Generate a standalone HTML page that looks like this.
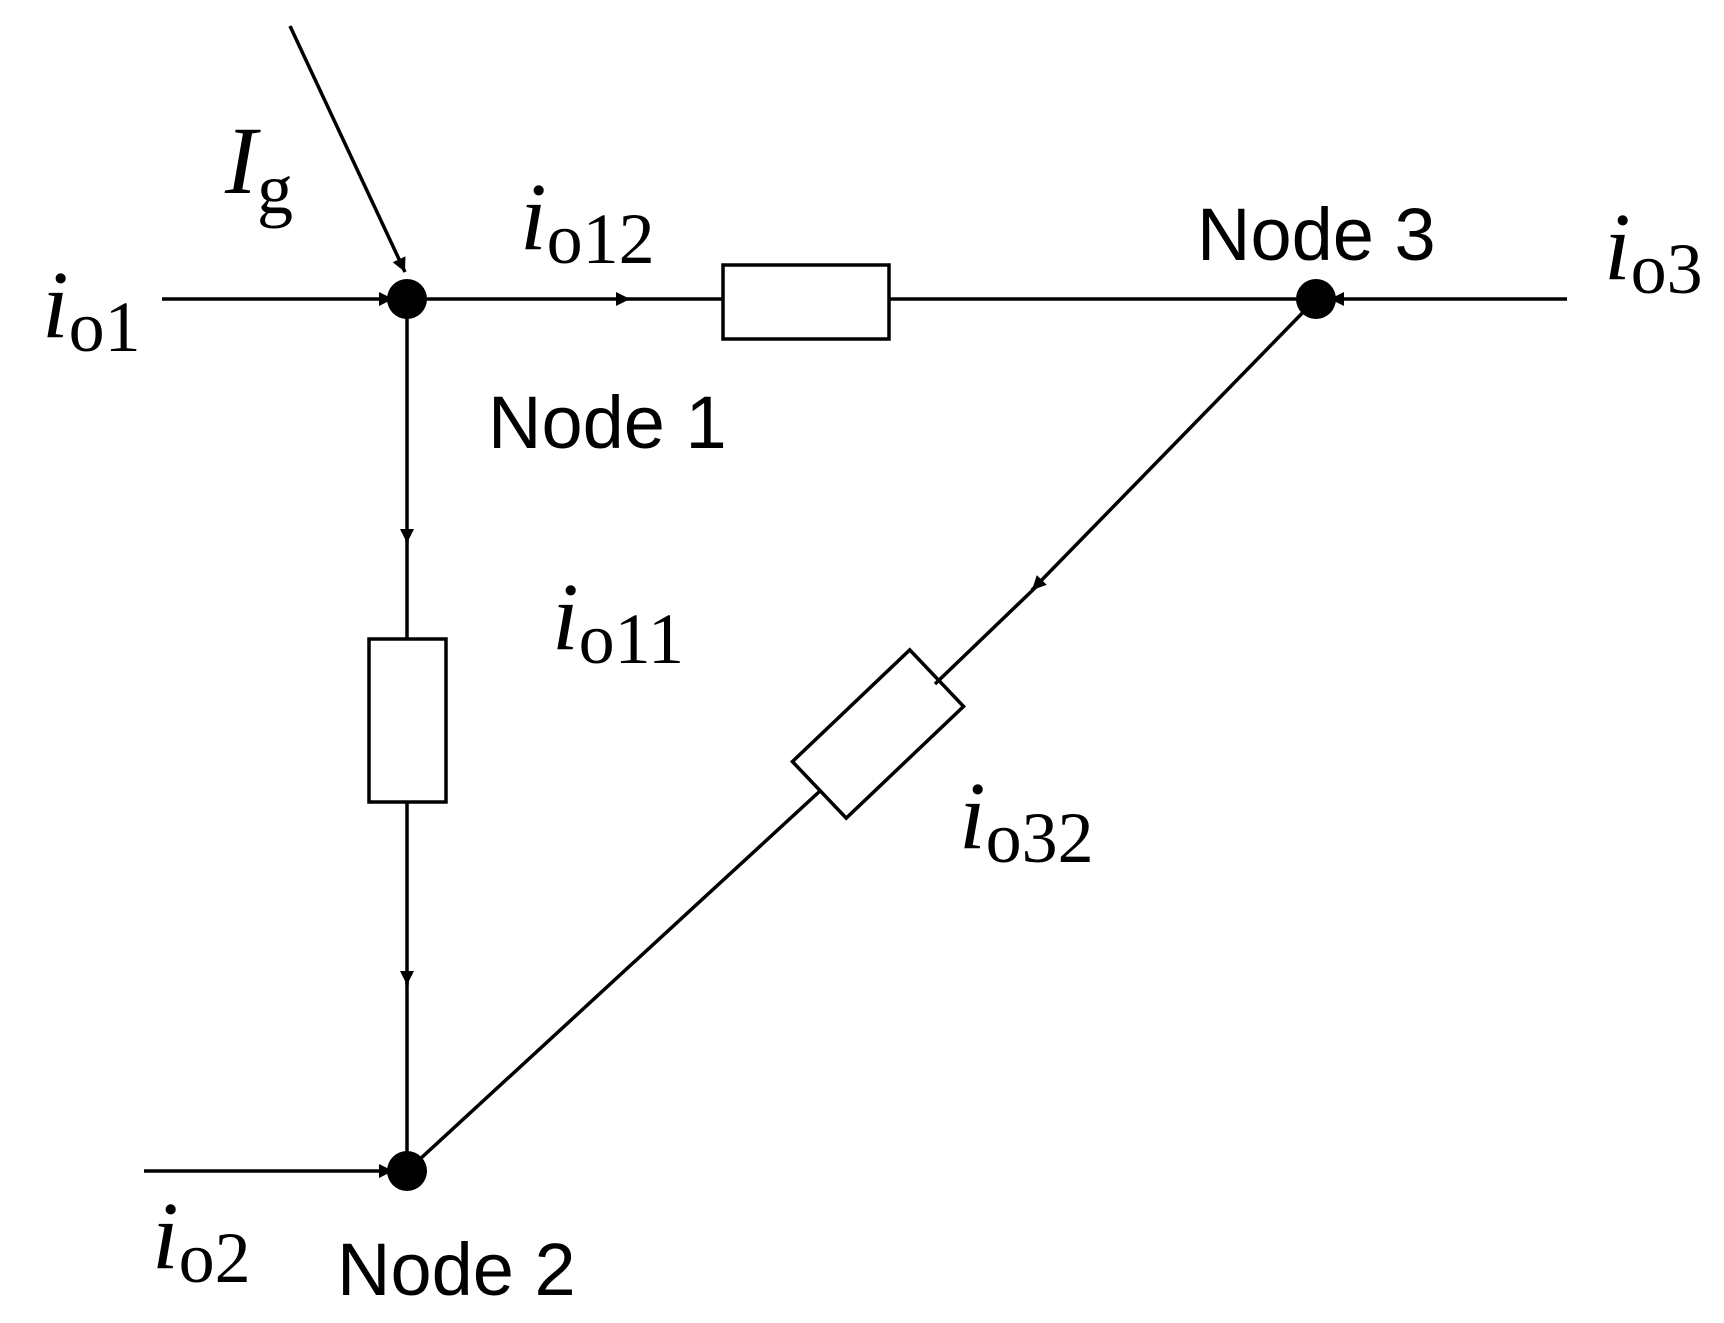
<!DOCTYPE html>
<html><head><style>html,body{margin:0;padding:0;background:#fff}</style></head><body>
<svg width="1724" height="1318" viewBox="0 0 1724 1318" xmlns="http://www.w3.org/2000/svg">
<defs>
<marker id="a" viewBox="0 0 10 10" refX="10" refY="5" markerWidth="22" markerHeight="14" markerUnits="userSpaceOnUse" orient="auto"><path d="M0,0 L10,5 L0,10 Z" fill="#000"/></marker>
</defs>
<g stroke="#000" stroke-width="3.5" fill="none">
<line x1="290" y1="26" x2="405" y2="272" marker-end="url(#a)"/>
<line x1="162" y1="299" x2="393" y2="299" marker-end="url(#a)"/>
<line x1="407" y1="299" x2="630" y2="299" marker-end="url(#a)"/>
<line x1="630" y1="299" x2="723" y2="299"/>
<rect x="723" y="265" width="166" height="74"/>
<line x1="889" y1="299" x2="1316" y2="299"/>
<line x1="1567" y1="299" x2="1330" y2="299" marker-end="url(#a)"/>
<line x1="407" y1="299" x2="407" y2="543" marker-end="url(#a)"/>
<line x1="407" y1="540" x2="407" y2="639"/>
<rect x="369" y="639" width="77" height="163"/>
<line x1="407" y1="802" x2="407" y2="985" marker-end="url(#a)"/>
<line x1="407" y1="980" x2="407" y2="1171"/>
<line x1="144" y1="1171" x2="393" y2="1171" marker-end="url(#a)"/>
<line x1="1316" y1="299" x2="1032" y2="590" marker-end="url(#a)"/>
<line x1="1037" y1="586" x2="935" y2="684"/>
<rect x="-81" y="-39" width="162" height="78" transform="translate(878,734) rotate(-43.6)"/>
<line x1="820" y1="791" x2="407" y2="1171"/>
</g>
<g fill="#000">
<circle cx="407" cy="299" r="20"/>
<circle cx="407" cy="1171" r="20"/>
<circle cx="1316" cy="299" r="20"/>
</g>
<g font-family="Liberation Sans, sans-serif" font-size="74" fill="#000">
<text x="488" y="448">Node 1</text>
<text x="337" y="1295">Node 2</text>
<text x="1197" y="260">Node 3</text>
</g>
<g font-family="Liberation Serif, serif" fill="#000">
<text x="225" y="193"><tspan font-size="96" font-style="italic">I</tspan><tspan font-size="72" dy="20">g</tspan></text>
<text x="42" y="337"><tspan font-size="96" font-style="italic">i</tspan><tspan font-size="72" dy="14">o1</tspan></text>
<text x="520" y="249"><tspan font-size="96" font-style="italic">i</tspan><tspan font-size="72" dy="14">o12</tspan></text>
<text x="1604" y="279"><tspan font-size="96" font-style="italic">i</tspan><tspan font-size="72" dy="14">o3</tspan></text>
<text x="552" y="649"><tspan font-size="96" font-style="italic">i</tspan><tspan font-size="72" dy="14">o11</tspan></text>
<text x="959" y="848"><tspan font-size="96" font-style="italic">i</tspan><tspan font-size="72" dy="14">o32</tspan></text>
<text x="152" y="1268"><tspan font-size="96" font-style="italic">i</tspan><tspan font-size="72" dy="14">o2</tspan></text>
</g>
</svg>
</body></html>
